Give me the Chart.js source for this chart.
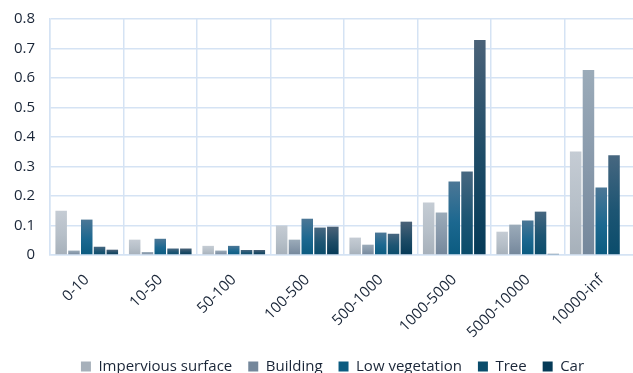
<!DOCTYPE html>
<html>
<head>
<meta charset="utf-8">
<script src="https://cdn.jsdelivr.net/npm/chart.js@4/dist/chart.umd.min.js"></script>
<style>
  html, body { margin: 0; padding: 0; background: #ffffff; overflow: hidden; }
  #wrap { position: relative; width: 665px; height: 373px; }
</style>
</head>
<body>
<div id="wrap"><canvas id="c"></canvas></div>
<script>
// Size classes (pixel area ranges)
const categories = ['0-10', '10-50', '50-100', '100-500', '500-1000', '1000-5000', '5000-10000', '10000-inf'];

// Share per class for each land-cover type
const impervious    = [0.150, 0.052, 0.031, 0.100, 0.059, 0.178, 0.079, 0.351];
const building      = [0.015, 0.010, 0.015, 0.052, 0.035, 0.144, 0.103, 0.627];
const lowVegetation = [0.120, 0.055, 0.031, 0.123, 0.076, 0.249, 0.117, 0.229];
const tree          = [0.028, 0.022, 0.017, 0.093, 0.072, 0.283, 0.147, 0.338];
const car           = [0.018, 0.022, 0.017, 0.096, 0.113, 0.729, 0.004, 0.000];

const yTicks = [0, 0.1, 0.2, 0.3, 0.4, 0.5, 0.6, 0.7, 0.8];

const FONT = '"Open Sans", "Liberation Sans", sans-serif';
const TEXT = '#1a2638';
const GRID = '#d5e3f4';
const RIGHT_GAP = 27;

// Vertical gradient per bar: top colour -> bottom colour
function barGradient(top, mid, bottom) {
  return function (ctx) {
    if (ctx.type !== 'data') return mid;
    const chart = ctx.chart;
    const y = chart.scales.y;
    if (!y || !chart.chartArea) return mid;
    const yTop = y.getPixelForValue(ctx.parsed.y);
    const yBase = y.getPixelForValue(0);
    if (yBase - yTop < 1) return bottom;
    const g = chart.ctx.createLinearGradient(0, yTop, 0, yBase);
    g.addColorStop(0, top);
    g.addColorStop(0.55, mid);
    g.addColorStop(1, bottom);
    return g;
  };
}

// Centre the legend on the full canvas width rather than the padded box
const legendCentre = {
  id: 'legendCentre',
  afterLayout(chart) {
    if (chart.legend) chart.legend.right += RIGHT_GAP;
  }
};

const series = [
  { label: 'Impervious surface', data: impervious,    c: ['#c5ccd4', '#b6bfc8', '#a6b0ba'] },
  { label: 'Building',           data: building,      c: ['#9babb9', '#8798aa', '#74879b'] },
  { label: 'Low vegetation',     data: lowVegetation, c: ['#4c7796', '#1c6890', '#0b5b80'] },
  { label: 'Tree',               data: tree,          c: ['#476780', '#1d5573', '#0a4c6b'] },
  { label: 'Car',                data: car,           c: ['#4b6278', '#1d4b66', '#053a57'] }
];

new Chart(document.getElementById('c'), {
  type: 'bar',
  data: {
    labels: categories,
    datasets: series.map(s => ({
      label: s.label,
      data: s.data,
      backgroundColor: barGradient(s.c[0], s.c[1], s.c[2]),
      borderWidth: 0,
      categoryPercentage: 0.87,
      barPercentage: 0.9
    }))
  },
  plugins: [legendCentre],
  options: {
    responsive: true,
    maintainAspectRatio: false,
    animation: false,
    layout: { padding: { top: 19, right: RIGHT_GAP, left: 0, bottom: -11 } },
    plugins: {
      tooltip: { enabled: false },
      legend: {
        position: 'bottom',
        labels: {
          font: { family: FONT, size: 15 },
          color: TEXT,
          boxWidth: 10,
          boxHeight: 10,
          padding: 16
        }
      }
    },
    scales: {
      x: {
        offset: true,
        grid: { offset: true, color: GRID, lineWidth: 1.5, drawTicks: false },
        border: { color: GRID, width: 1.5 },
        ticks: {
          font: { family: FONT, size: 15 },
          color: TEXT,
          minRotation: 45,
          maxRotation: 45,
          padding: 16
        },
        afterFit: (scale) => { scale.height = 88; }
      },
      y: {
        min: 0,
        max: 0.8,
        afterBuildTicks: (scale) => { scale.ticks = yTicks.map(v => ({ value: v })); },
        grid: { color: GRID, lineWidth: 1.5, drawTicks: false },
        border: { color: GRID, width: 1.5 },
        ticks: {
          font: { family: FONT, size: 15 },
          color: TEXT,
          padding: 15,
          callback: (v) => String(Math.round(v * 10) / 10)
        },
        afterFit: (scale) => {
          scale.width = 50;
          scale.paddingTop = 0;
          scale.paddingBottom = 0;
        }
      }
    }
  }
});
</script>
</body>
</html>
